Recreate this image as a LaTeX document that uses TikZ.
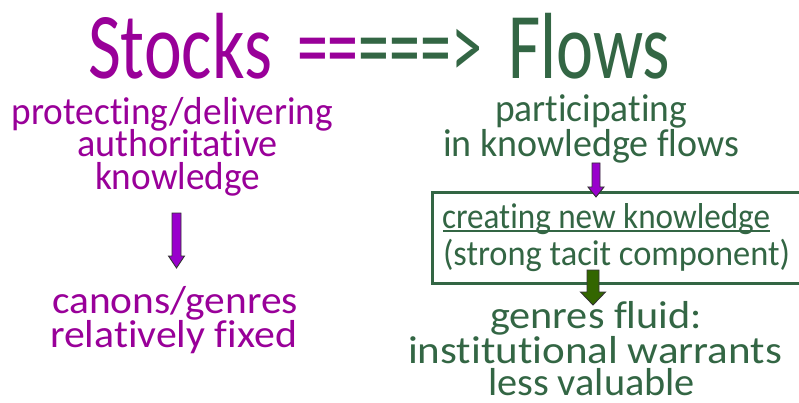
\documentclass[tikz,border=0pt]{standalone}
\usepackage{fontspec}
\setmainfont[Ligatures={NoCommon}]{Carlito}
\usepackage{graphicx}
\definecolor{stockpurple}{RGB}{153,0,153}
\definecolor{flowgreen}{RGB}{51,102,68}
\definecolor{arrowviolet}{RGB}{153,0,204}
\definecolor{arrowgreen}{RGB}{51,102,0}
% set a line of text to a given width (in pt), keeping its height
\newcommand{\fitline}[2]{\resizebox{#1pt}{\height}{#2}}
% block arrow: centre x, top y, tip y, shaft half-width, head half-width, head length, fill
\newcommand{\blockarrow}[7]{%
  \draw[arrowedge, fill=#7]
    (#1-#4,#2) -- (#1+#4,#2) -- (#1+#4,#3-#6) -- (#1+#5,#3-#6) -- (#1,#3)
    -- (#1-#5,#3-#6) -- (#1-#4,#3-#6) -- cycle;}
\begin{document}
\begin{tikzpicture}[x=1pt,y=-1pt,
  txt/.style={inner sep=0pt, outer sep=0pt, anchor=base west},
  titletxt/.style={txt, font=\fontsize{94}{94}\selectfont},
  bodytxt/.style={txt, font=\fontsize{39}{39}\selectfont},
  boxtxt/.style={txt, font=\fontsize{36}{36}\selectfont, text=flowgreen},
  stocks/.style={bodytxt, text=stockpurple},
  flows/.style={bodytxt, text=flowgreen},
  arrowedge/.style={draw=black!80, line width=0.9pt, line join=miter},
  framebox/.style={draw=flowgreen, line width=3pt}]
\useasboundingbox (0,0) rectangle (799,403);
\fill[white] (0,0) rectangle (799,403);

% title
\node[titletxt, text=stockpurple] (stk) at (88,79) {\fitline{184}{Stocks}};
\node[titletxt] (eq) at (297,79) {\fitline{185}{\textcolor{stockpurple}{==}\textcolor{flowgreen}{===>}}};
\node[titletxt, text=flowgreen] (flw) at (508,79) {\fitline{162}{Flows}};

% stocks side
\node[stocks] (s1) at (12,125) {\fitline{321}{protecting/delivering}};
\node[stocks] (s2) at (77,157) {\fitline{201}{authoritative}};
\node[stocks] (s3) at (95,190) {\fitline{165}{knowledge}};
\node[stocks] (s4) at (52,313) {\fitline{246}{canons/genres}};
\node[stocks] (s5) at (50,347) {\fitline{247}{relatively fixed}};

% flows side
\node[flows] (f1) at (495,122) {\fitline{192}{participating}};
\node[flows] (f2) at (443,157) {\fitline{296}{in knowledge flows}};
\draw[framebox] (432,193) rectangle (812,283);
\node[boxtxt] (b1) at (442,228) {\fitline{328}{creating new knowledge}};
\draw[flowgreen, line width=1.3pt] (443,231) -- (770,231);
\node[boxtxt] (b2) at (443,265) {\fitline{347}{(strong tacit component)}};
\node[flows] (f3) at (490,328) {\fitline{212}{genres fluid:}};
\node[flows] (f4) at (408,363) {\fitline{374}{institutional warrants}};
\node[flows] (f5) at (488,395) {\fitline{207}{less valuable}};

% arrows
\blockarrow{176.5}{213}{268}{4.5}{8}{12}{arrowviolet}
\blockarrow{596}{163}{197}{4}{8}{10}{arrowviolet}
\blockarrow{593}{270}{305}{6}{12.5}{13}{arrowgreen}
\end{tikzpicture}
\end{document}
